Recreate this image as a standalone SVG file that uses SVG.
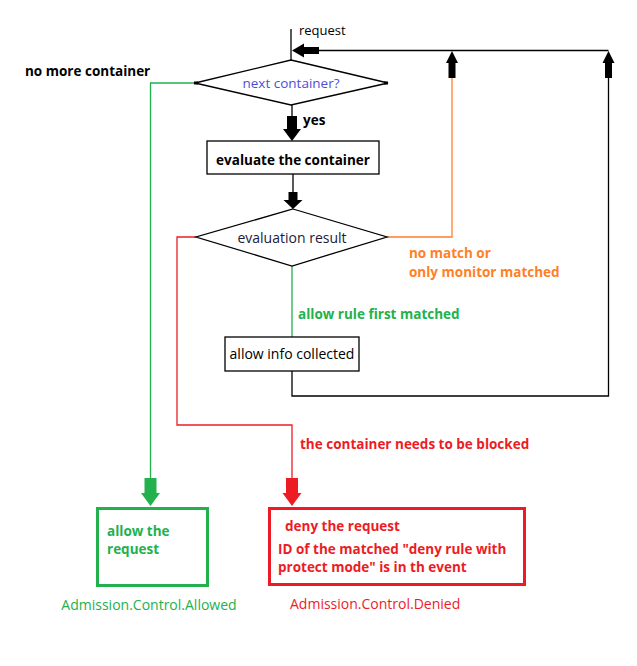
<svg xmlns="http://www.w3.org/2000/svg" width="637" height="666" viewBox="0 0 637 666">
<style>
text{font-family:"Open Sans","Noto Sans","DejaVu Sans",sans-serif;font-size:14px;dominant-baseline:central}
.b{font-weight:bold;font-size:13.5px}
.k{fill:#000}
.g{fill:#22b14c}
.r{fill:#ed1c24}
.o{fill:#ff7f27}
.ln{fill:none;stroke-width:1.3}
.box{fill:#fff;stroke:#000;stroke-width:1.3}
</style>
<rect width="637" height="666" fill="#fff"/>
<g id="connectors">
  <!-- request line and loop -->
  <path class="ln" stroke="#000" d="M291,29 V60"/>
  <path class="ln" stroke="#000" d="M319,50.5 H608.5"/>
  <polygon fill="#000" points="292,50.5 304,43.5 304,57.5"/>
  <rect x="303" y="47" width="16" height="7" fill="#000"/>
  <!-- yes arrow -->
  <path class="ln" stroke="#000" d="M292,105 V117"/>
  <rect x="287" y="116" width="10" height="14" fill="#000"/>
  <polygon fill="#000" points="283,129 301,129 292,141"/>
  <!-- evaluate -> result arrow -->
  <path class="ln" stroke="#000" d="M293,174 V193"/>
  <rect x="288.5" y="192" width="9" height="9" fill="#000"/>
  <polygon fill="#000" points="283.5,200 302.5,200 293,209"/>
  <!-- orange: no match -->
  <path class="ln" stroke="#ff7f27" d="M387,237 H452 V78"/>
  <rect x="448.5" y="62" width="7" height="16" fill="#000"/>
  <polygon fill="#000" points="452,51 458,63 446,63"/>
  <!-- allow info back loop -->
  <path class="ln" stroke="#000" d="M292,371 V396 H608.5 V78"/>
  <rect x="605" y="62" width="7" height="16" fill="#000"/>
  <polygon fill="#000" points="608.5,51 614.5,63 602.5,63"/>
  <!-- green allow rule -->
  <path class="ln" stroke="#22b14c" d="M292,266 V337"/>
  <!-- green no more container -->
  <path class="ln" stroke="#22b14c" d="M195,83 H150.5 V479"/>
  <rect x="144.5" y="478" width="12" height="16" fill="#22b14c"/>
  <polygon fill="#22b14c" points="141,493 160,493 150.5,506"/>
  <!-- red blocked -->
  <path class="ln" stroke="#ed1c24" d="M196,237 H177 V425 H292 V479"/>
  <rect x="286" y="478" width="12" height="16" fill="#ed1c24"/>
  <polygon fill="#ed1c24" points="282.5,493 301.5,493 292,506"/>
  <!-- labels -->
  <text x="299" y="30" style="font-size:13px">request</text>
  <text class="b k" x="25" y="71">no more container</text>
  <text class="b k" x="303" y="120">yes</text>
  <text class="b o" x="409" y="253">no match or</text>
  <text class="b o" x="409" y="272">only monitor matched</text>
  <text class="b g" x="298" y="314">allow rule first matched</text>
  <text class="b r" x="300" y="444">the container needs to be blocked</text>
</g>
<g id="next-container">
  <polygon class="box" points="291,60 388,83 291,105 195,83"/>
  <rect x="194" y="81.5" width="4" height="3" fill="#000"/>
  <rect x="384" y="81.5" width="4" height="3" fill="#000"/>
  <text x="291" y="83" text-anchor="middle" fill="#4b4fd6" style="font-size:13.5px">next container?</text>
</g>
<g id="evaluate-container">
  <rect class="box" x="207" y="141" width="172" height="33"/>
  <text class="b" x="293" y="160" text-anchor="middle">evaluate the container</text>
</g>
<g id="evaluation-result">
  <polygon class="box" points="293,209 387,237 292,266 196,237"/>
  <text x="292" y="237" text-anchor="middle" fill="#1a1a3a">evaluation result</text>
</g>
<g id="allow-info">
  <rect class="box" x="225" y="337" width="134" height="34"/>
  <text x="292" y="353" text-anchor="middle" fill="#000">allow info collected</text>
</g>
<g id="allow-request">
  <rect x="97.5" y="508.5" width="110" height="77" fill="#fff" stroke="#22b14c" stroke-width="3"/>
  <text class="b g" x="107" y="531">allow the</text>
  <text class="b g" x="107" y="549">request</text>
  <text class="g" x="149" y="604" text-anchor="middle">Admission.Control.Allowed</text>
</g>
<g id="deny-request">
  <rect x="269.5" y="508.5" width="255" height="76" fill="#fff" stroke="#ed1c24" stroke-width="3"/>
  <text class="b r" x="285" y="526">deny the request</text>
  <text class="b r" x="278" y="549">ID of the matched "deny rule with</text>
  <text class="b r" x="278" y="567">protect mode" is in th event</text>
  <text class="r" x="290" y="603">Admission.Control.Denied</text>
</g>
</svg>
